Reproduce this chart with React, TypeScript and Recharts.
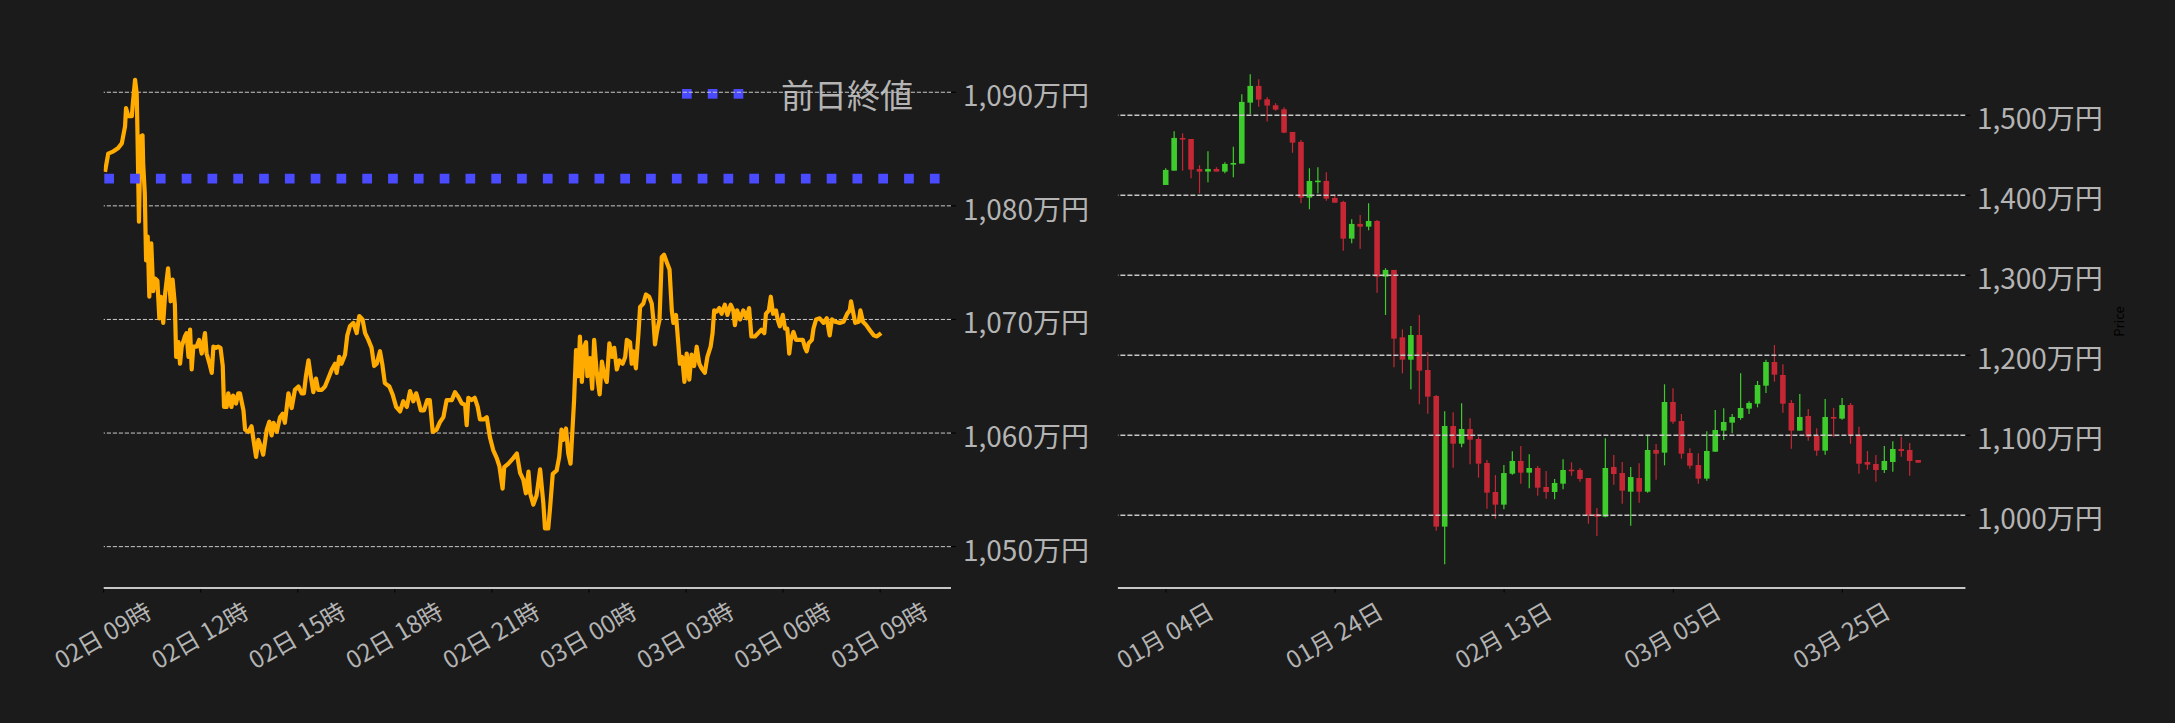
import React from 'react';
import {
  ComposedChart,
  Line,
  Bar,
  XAxis,
  YAxis,
  ReferenceLine,
  Customized,
  Label,
} from 'recharts';

// ---------- Intraday (left) data ----------
// hours elapsed since 02日 09:00
const intradayHours = [
  0.04, 0.14, 0.3, 0.45, 0.56, 0.66, 0.69, 0.76, 0.87, 0.9, 0.97, 1.02, 1.04, 1.09, 1.14, 1.2, 1.22, 1.27,
  1.31, 1.36, 1.41, 1.47, 1.53, 1.59, 1.66, 1.72, 1.77, 1.84, 1.9, 1.99, 2.07, 2.13, 2.2, 2.24, 2.31, 2.36,
  2.41, 2.51, 2.56, 2.62, 2.67, 2.72, 2.77, 2.87, 2.95, 3.03, 3.13, 3.18, 3.27, 3.34, 3.39, 3.47, 3.54, 3.61,
  3.68, 3.72, 3.8, 3.85, 3.95, 4.0, 4.09, 4.16, 4.21, 4.32, 4.37, 4.47, 4.57, 4.63, 4.71, 4.78, 4.86, 4.93,
  5.04, 5.12, 5.19, 5.25, 5.35, 5.45, 5.53, 5.6, 5.71, 5.81, 5.91, 6.02, 6.12, 6.19, 6.25, 6.33, 6.4, 6.48,
  6.56, 6.63, 6.74, 6.84, 6.94, 7.05, 7.15, 7.2, 7.28, 7.35, 7.46, 7.53, 7.61, 7.72, 7.82, 7.9, 8.0, 8.08,
  8.18, 8.28, 8.36, 8.44, 8.54, 8.61, 8.69, 8.83, 8.93, 9.04, 9.16, 9.26, 9.37, 9.47, 9.57, 9.66, 9.73, 9.8,
  9.9, 10.0, 10.08, 10.17, 10.29, 10.4, 10.5, 10.6, 10.76, 10.86, 10.96, 11.07, 11.17, 11.22, 11.27, 11.37,
  11.47, 11.56, 11.63, 11.74, 11.84, 11.94, 12.04, 12.15, 12.23, 12.33, 12.38, 12.51, 12.66, 12.77, 12.87,
  12.97, 13.05, 13.13, 13.18, 13.28, 13.38, 13.49, 13.59, 13.64, 13.74, 13.8, 13.88, 14.0, 14.08, 14.15,
  14.2, 14.29, 14.36, 14.43, 14.49, 14.54, 14.6, 14.67, 14.72, 14.78, 14.85, 14.91, 14.95, 15.03, 15.1,
  15.16, 15.24, 15.33, 15.4, 15.47, 15.55, 15.63, 15.71, 15.78, 15.86, 15.94, 16.04, 16.12, 16.17, 16.27,
  16.32, 16.37, 16.45, 16.53, 16.58, 16.68, 16.76, 16.86, 16.94, 16.99, 17.04, 17.1, 17.18, 17.25, 17.32,
  17.41, 17.49, 17.56, 17.61, 17.69, 17.76, 17.81, 17.88, 17.95, 18.02, 18.1, 18.17, 18.25, 18.33, 18.41,
  18.48, 18.58, 18.66, 18.76, 18.82, 18.87, 18.95, 19.03, 19.1, 19.2, 19.28, 19.38, 19.46, 19.51, 19.58,
  19.67, 19.77, 19.87, 19.95, 20.02, 20.13, 20.23, 20.33, 20.42, 20.47, 20.56, 20.62, 20.69, 20.78, 20.83,
  20.9, 20.99, 21.06, 21.13, 21.19, 21.24, 21.32, 21.4, 21.5, 21.61, 21.68, 21.73, 21.79, 21.89, 21.94,
  22.02, 22.13, 22.25, 22.35, 22.44, 22.51, 22.61, 22.75, 22.87, 22.98, 23.06, 23.1, 23.16, 23.23, 23.34,
  23.39, 23.47, 23.57, 23.67, 23.8, 23.9, 24.03,
];

// 万円
const intradayPrices = [
  1083.0, 1084.6, 1084.8, 1085.1, 1085.5, 1087.0, 1088.6, 1087.9, 1087.9, 1089.0, 1091.1, 1089.9, 1087.0, 1078.6, 1086.1, 1086.2, 1083.75, 1081.1,
  1075.2, 1077.3, 1072.0, 1076.7, 1072.5, 1073.6, 1073.4, 1070.1, 1072.0, 1069.7, 1072.3, 1074.5, 1071.6, 1073.5, 1071.3, 1066.7, 1068.0, 1066.1,
  1067.6, 1068.5, 1068.8, 1066.7, 1069.1, 1065.6, 1067.6, 1067.6, 1068.2, 1067.0, 1068.8, 1067.0, 1066.1, 1065.3, 1067.6, 1067.5, 1067.6, 1067.5,
  1065.9, 1062.3, 1062.3, 1063.5, 1062.3, 1063.3, 1062.6, 1063.5, 1063.5, 1062.0, 1060.3, 1060.1, 1060.6, 1059.4, 1057.9, 1059.4, 1058.8, 1058.1,
  1060.3, 1061.0, 1059.8, 1060.9, 1060.1, 1061.4, 1061.7, 1060.9, 1063.5, 1062.2, 1063.8, 1064.1, 1063.5, 1063.5, 1065.0, 1066.4, 1065.0, 1063.6,
  1064.8, 1063.8, 1063.8, 1064.1, 1064.8, 1065.6, 1066.1, 1065.3, 1066.7, 1066.1, 1066.9, 1068.6, 1069.4, 1069.7, 1068.8, 1070.3, 1070.0, 1068.8,
  1068.2, 1067.5, 1065.9, 1066.1, 1067.2, 1066.1, 1064.4, 1064.1, 1063.4, 1062.3, 1061.9, 1062.8, 1062.3, 1063.7, 1062.8, 1063.5, 1062.8, 1062.0,
  1062.0, 1062.9, 1062.9, 1060.1, 1060.3, 1061.0, 1061.4, 1062.9, 1062.9, 1063.6, 1063.2, 1062.6, 1062.5, 1060.7, 1063.1, 1062.9,
  1063.1, 1062.3, 1061.2, 1061.2, 1061.4, 1059.6, 1058.5, 1057.8, 1057.1, 1055.1, 1057.0, 1057.3, 1057.8, 1058.2, 1056.5,
  1055.9, 1054.7, 1056.6, 1054.7, 1053.7, 1054.5, 1056.8, 1053.8, 1051.6, 1051.6, 1053.5, 1056.4, 1056.7, 1057.9, 1060.3,
  1059.4, 1060.4, 1058.2, 1057.3, 1060.3, 1062.9, 1067.3, 1065.0, 1068.5, 1064.5, 1067.6, 1068.0, 1065.0, 1066.6, 1063.9,
  1068.2, 1065.3, 1063.4, 1066.3, 1065.1, 1064.5, 1067.9, 1066.7, 1067.5, 1065.6, 1066.4, 1066.1, 1066.7, 1068.2, 1068.0,
  1066.1, 1067.2, 1065.7, 1068.8, 1071.1, 1071.4, 1072.2, 1072.0, 1071.4, 1070.0, 1067.8, 1068.9, 1070.0, 1075.5, 1075.7,
  1075.0, 1074.4, 1070.8, 1069.7, 1070.4, 1067.9, 1066.1, 1066.7, 1064.5, 1067.0, 1064.7, 1066.9, 1065.9, 1067.6, 1066.1,
  1065.7, 1065.3, 1066.7, 1067.6, 1068.8, 1070.8, 1070.7, 1071.0, 1070.5, 1071.3, 1070.4, 1071.3, 1070.8, 1069.5, 1070.8,
  1070.0, 1070.8, 1070.1, 1071.0, 1068.5, 1068.5, 1068.8, 1069.1, 1068.8, 1070.5, 1070.8, 1072.0, 1070.5, 1070.8, 1070.0,
  1069.4, 1070.4, 1069.2, 1069.2, 1067.0, 1068.2, 1068.9, 1068.2, 1068.2, 1068.2, 1067.5, 1067.2, 1067.9, 1068.2, 1069.2,
  1070.0, 1070.1, 1069.7, 1070.1, 1068.6, 1070.0, 1069.8, 1069.7, 1069.8, 1070.5, 1070.8, 1071.6, 1070.7, 1069.7, 1069.8,
  1070.8, 1069.8, 1069.5, 1069.1, 1068.6, 1068.5, 1068.8,
];

const previousClose = 1082.4;
const intradayTickHours = [0, 3, 6, 9, 12, 15, 18, 21, 24];
const intradayTickLabels = [
  '02日 09時', '02日 12時', '02日 15時', '02日 18時', '02日 21時',
  '03日 00時', '03日 03時', '03日 06時', '03日 09時',
];
const intradayPriceTicks = [1050, 1060, 1070, 1080, 1090];
const legendLabel = '前日終値';

// ---------- Daily candles (right) data, from 01月04日 ----------
const candleOpen = [
  1412.9, 1430.8, 1471.7, 1470.4, 1432.9, 1429.6, 1432.9, 1429.6, 1438.3, 1439.6,
  1515.8, 1536.7, 1520.0, 1512.5, 1507.5, 1479.2, 1466.7, 1397.1, 1417.5, 1417.9,
  1396.7, 1391.7, 1345.8, 1364.2, 1360.8, 1367.9, 1298.3, 1306.7, 1222.4, 1194.5,
  1225.4, 1181.6, 1149.1, 985.8, 1111.6, 1089.5, 1107.9, 1095.3, 1065.4, 1029.1,
  1013.3, 1052.0, 1067.9, 1053.3, 1059.1, 1035.4, 1029.1, 1039.5, 1057.0, 1056.6,
  1046.6, 1001.6, 998.3, 1060.4, 1052.8, 1029.5, 1046.6, 1029.5, 1081.6, 1078.3,
  1141.6, 1117.8, 1077.8, 1062.9, 1045.8, 1079.5, 1105.8, 1115.8, 1121.6, 1133.3,
  1139.5, 1162.0, 1191.6, 1175.4, 1140.4, 1105.8, 1124.1, 1099.5, 1080.8, 1122.9,
  1120.8, 1137.8, 1100.3, 1066.6, 1064.1, 1056.6, 1066.6, 1082.9, 1081.6, 1069.1,
];
const candleHigh = [
  1433.8, 1480.0, 1477.5, 1470.4, 1437.5, 1455.0, 1435.0, 1441.3, 1460.8, 1526.3,
  1551.3, 1545.0, 1522.9, 1515.0, 1510.0, 1479.2, 1469.2, 1433.8, 1435.0, 1428.8,
  1401.3, 1393.3, 1370.0, 1375.4, 1390.0, 1369.2, 1308.8, 1306.7, 1232.4, 1236.6,
  1250.4, 1203.7, 1150.4, 1129.9, 1128.7, 1139.9, 1121.2, 1098.3, 1069.1, 1050.3,
  1062.9, 1079.9, 1086.6, 1076.2, 1061.6, 1055.4, 1045.4, 1069.9, 1066.2, 1059.1,
  1046.6, 1009.1, 1096.2, 1075.4, 1066.6, 1060.4, 1064.9, 1100.8, 1089.1, 1163.7,
  1158.7, 1126.6, 1083.7, 1077.4, 1104.9, 1131.6, 1133.7, 1126.6, 1177.4, 1142.4,
  1167.9, 1194.5, 1212.9, 1188.7, 1144.1, 1151.6, 1132.9, 1108.7, 1145.4, 1134.1,
  1146.6, 1140.4, 1110.8, 1080.4, 1075.4, 1086.6, 1092.4, 1097.8, 1090.3, 1069.1,
];
const candleLow = [
  1412.9, 1430.8, 1430.8, 1421.3, 1402.5, 1416.3, 1429.6, 1427.5, 1422.5, 1439.6,
  1501.7, 1510.8, 1492.1, 1505.8, 1477.5, 1453.3, 1390.0, 1382.5, 1402.5, 1393.3,
  1390.8, 1330.8, 1340.0, 1333.3, 1356.3, 1278.3, 1250.4, 1185.0, 1177.4, 1157.4,
  1138.7, 1127.0, 980.8, 938.7, 1059.5, 1084.9, 1063.7, 1047.0, 1008.3, 995.8,
  1007.4, 1050.8, 1039.5, 1033.7, 1024.5, 1020.8, 1019.9, 1032.4, 1049.5, 1042.0,
  989.5, 974.1, 997.4, 1038.3, 1014.5, 987.0, 1015.8, 1028.3, 1044.5, 1062.4,
  1114.5, 1070.8, 1058.3, 1039.5, 1043.3, 1079.5, 1094.1, 1102.4, 1119.5, 1126.6,
  1134.9, 1152.8, 1167.0, 1128.3, 1083.3, 1105.8, 1093.3, 1074.5, 1075.8, 1098.3,
  1119.5, 1089.5, 1052.0, 1057.0, 1042.0, 1052.8, 1054.5, 1073.3, 1049.5, 1065.8,
];
const candleClose = [
  1431.7, 1471.7, 1469.6, 1432.1, 1429.6, 1432.9, 1429.6, 1439.2, 1440.4, 1516.7,
  1536.7, 1519.6, 1512.1, 1507.1, 1478.3, 1465.8, 1397.1, 1417.9, 1418.3, 1395.8,
  1390.8, 1345.8, 1364.2, 1360.8, 1367.9, 1298.3, 1306.7, 1220.8, 1194.5, 1225.4,
  1180.8, 1148.3, 985.8, 1111.6, 1089.5, 1107.9, 1094.5, 1064.5, 1028.3, 1013.3,
  1052.8, 1067.9, 1053.3, 1059.1, 1034.5, 1029.1, 1040.4, 1056.6, 1055.4, 1045.4,
  999.9, 998.3, 1059.1, 1051.6, 1030.8, 1047.8, 1029.5, 1081.6, 1077.0, 1141.6,
  1117.0, 1077.0, 1062.0, 1045.8, 1080.4, 1106.6, 1116.6, 1122.9, 1134.1, 1140.4,
  1162.9, 1191.6, 1175.8, 1139.5, 1105.8, 1122.9, 1098.3, 1080.8, 1122.9, 1120.8,
  1137.8, 1099.5, 1064.5, 1063.3, 1056.6, 1067.9, 1082.9, 1080.4, 1067.9, 1065.8,
];
const dailyTickIndex = [0, 20, 40, 60, 80];
const dailyTickLabels = ['01月 04日', '01月 24日', '02月 13日', '03月 05日', '03月 25日'];
const dailyPriceTicks = [1000, 1100, 1200, 1300, 1400, 1500];
const dailyAxisTitle = 'Price';

// ---------- styles ----------
const BG = '#1b1b1b';
const FONT = '"Noto Sans CJK JP", "Noto Sans", sans-serif';
const TEXT = '#b4b4b4';
const ORANGE = '#ffab00';
const BLUE = '#4a4aff';
const GREEN = '#3dcc2c';
const RED = '#c62734';
const GRID = '#c8c8c8';
const AXIS = '#c6c6c6';

const fmtMan = (v: number) => `${v.toLocaleString('en-US')}万円`;

const intradayData = intradayHours.map((t, i) => ({ t, price: intradayPrices[i] }));
const candleData = candleOpen.map((open, i) => ({
  i,
  open,
  high: candleHigh[i],
  low: candleLow[i],
  close: candleClose[i],
}));

const makeXTick = (labels: string[]) => (props: any) => {
  const { x, y, index } = props;
  const lx = x - 1.5;
  const ly = y + 46;
  return (
    <g>
      <line x1={x} x2={x} y1={y + 1} y2={y + 4.5} stroke="#000" strokeWidth={1} />
      <text
        x={lx}
        y={ly}
        textAnchor="middle"
        dominantBaseline="central"
        transform={`rotate(-30 ${lx} ${ly})`}
        fill={TEXT}
        fontSize={24}
        fontFamily={FONT}
      >
        {labels[index]}
      </text>
    </g>
  );
};

const makeYTick = (gap: number) => (props: any) => {
  const { x, y, payload } = props;
  return (
    <g>
      <line x1={x} x2={x + 5} y1={y} y2={y} stroke="#000" strokeWidth={1} />
      <text
        x={x + gap}
        y={y + 2}
        dominantBaseline="central"
        fill={TEXT}
        fontSize={28}
        fontFamily={FONT}
      >
        {fmtMan(payload.value)}
      </text>
    </g>
  );
};

const CandleShape = (props: any) => {
  const { x, y, width, height, payload } = props;
  if (x == null || y == null || !payload) return null;
  const top = Math.min(y, y + height);
  const h = Math.abs(height);
  const { open, close, high, low } = payload;
  const ppu = high > low ? h / (high - low) : 0;
  const cx = x + width / 2;
  const bodyTop = top + (high - Math.max(open, close)) * ppu;
  const bodyBottom = top + (high - Math.min(open, close)) * ppu;
  const color = close >= open ? GREEN : RED;
  return (
    <g>
      <line x1={cx} x2={cx} y1={top} y2={top + h} stroke={color} strokeWidth={1.2} />
      <rect
        x={cx - 2.8}
        y={bodyTop}
        width={5.6}
        height={Math.max(bodyBottom - bodyTop, 1.6)}
        fill={color}
      />
    </g>
  );
};

const IntradayLegend = () => {
  const squares = [0, 1, 2];
  return (
    <g>
      {squares.map((k) => (
        <rect key={k} x={682 + k * 25.8} y={89} width={9.7} height={9.7} fill={BLUE} />
      ))}
      <text x={781} y={94} dominantBaseline="central" fill={TEXT} fontSize={33} fontFamily={FONT}>
        {legendLabel}
      </text>
    </g>
  );
};

export default function App() {
  return (
    <div
      style={{
        position: 'absolute',
        left: 0,
        top: 0,
        width: 2175,
        height: 723,
        background: BG,
        overflow: 'hidden',
      }}
    >
      <div style={{ position: 'absolute', left: 0, top: 0 }}>
        <ComposedChart
          width={1100}
          height={723}
          data={intradayData}
          margin={{ top: 40, right: 148, bottom: 134, left: 103.7 }}
        >
          <XAxis
            type="number"
            dataKey="t"
            domain={[0, 26.19]}
            allowDataOverflow
            ticks={intradayTickHours}
            interval={0}
            height={1}
            tickSize={0}
            tickMargin={0}
            tickLine={false}
            axisLine={{ stroke: AXIS, strokeWidth: 2 }}
            tick={makeXTick(intradayTickLabels)}
          />
          <YAxis
            orientation="right"
            type="number"
            domain={[1046.36, 1094.6]}
            allowDataOverflow
            ticks={intradayPriceTicks}
            interval={0}
            width={1}
            tickSize={0}
            tickMargin={0}
            tickLine={false}
            axisLine={false}
            tick={makeYTick(12)}
          />
          {intradayPriceTicks.map((v) => (
            <ReferenceLine key={v} y={v} stroke={GRID} strokeWidth={1} strokeDasharray="4.2 1.8" />
          ))}
          <Line
            type="linear"
            dataKey="price"
            stroke={ORANGE}
            strokeWidth={4.2}
            dot={false}
            activeDot={false}
            strokeLinejoin="round"
            isAnimationActive={false}
          />
          <ReferenceLine
            y={previousClose}
            stroke={BLUE}
            strokeWidth={9.7}
            strokeDasharray="9.7 16.1"
            strokeDashoffset={14.4}
          />
          <Customized component={IntradayLegend} />
        </ComposedChart>
      </div>

      <div style={{ position: 'absolute', left: 1100, top: 0 }}>
        <ComposedChart
          width={1075}
          height={723}
          data={candleData}
          margin={{ top: 40, right: 208.6, bottom: 134, left: 17.9 }}
        >
          <XAxis
            type="number"
            dataKey="i"
            domain={[-5.68, 94.56]}
            allowDataOverflow
            ticks={dailyTickIndex}
            interval={0}
            height={1}
            tickSize={0}
            tickMargin={0}
            tickLine={false}
            axisLine={{ stroke: AXIS, strokeWidth: 2 }}
            tick={makeXTick(dailyTickLabels)}
          />
          <YAxis
            orientation="right"
            type="number"
            domain={[909.1, 1594.1]}
            allowDataOverflow
            ticks={dailyPriceTicks}
            interval={0}
            width={1}
            tickSize={0}
            tickMargin={0}
            tickLine={false}
            axisLine={false}
            tick={makeYTick(11.5)}
          >
            <Label
              content={() => (
                <text
                  x={1018}
                  y={321.5}
                  textAnchor="middle"
                  dominantBaseline="central"
                  transform="rotate(-90 1018 321.5)"
                  fill="#000"
                  fontSize={13}
                  fontFamily={FONT}
                >
                  {dailyAxisTitle}
                </text>
              )}
            />
          </YAxis>
          {dailyPriceTicks.map((v) => (
            <ReferenceLine key={v} y={v} stroke={GRID} strokeWidth={1.4} strokeDasharray="5 2" />
          ))}
          <Bar
            dataKey={(d: any) => [d.low, d.high]}
            barSize={6}
            shape={<CandleShape />}
            isAnimationActive={false}
          />
        </ComposedChart>
      </div>
    </div>
  );
}
